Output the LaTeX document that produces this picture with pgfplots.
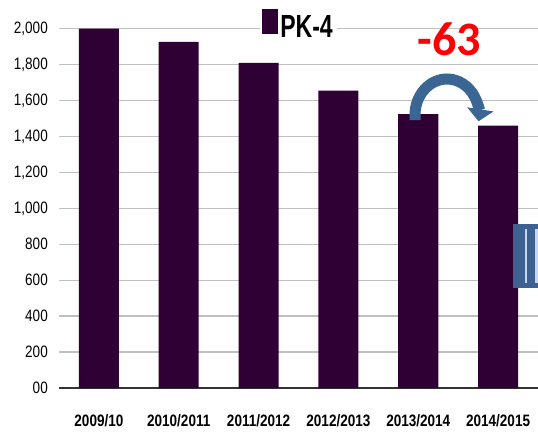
\documentclass[border=0pt]{standalone}
\usepackage{fontspec}
\setmainfont{Liberation Sans}[FakeStretch=0.82]
\newfontfamily\legfont{Liberation Sans}[FakeStretch=0.72]
\newfontfamily\numfont{Carlito}
\usepackage{pgfplots}
\pgfplotsset{compat=1.18}
\usetikzlibrary{arrows.meta}
\definecolor{barpurple}{HTML}{2F0033}
\definecolor{gridgray}{HTML}{BFBFBF}
\definecolor{arrowblue}{HTML}{3B6694}
\definecolor{boxblue}{HTML}{3D6190}
\definecolor{lightblue}{HTML}{C9D6E8}

\begin{document}
\begin{tikzpicture}[x=1pt,y=1pt]
\path[use as bounding box] (-59,-44) rectangle (479,388);
\begin{axis}[
    at={(0,0)}, anchor=south west,
    scale only axis,
    width=479pt, height=359.3pt,
    ybar, bar width=40pt,
    xmin=-0.5, xmax=5.5,
    ymin=0, ymax=2000,
    xtick={0,1,2,3,4,5},
    xticklabels={2009/10,2010/2011,2011/2012,2012/2013,2013/2014,2014/2015},
    ytick={0,200,400,600,800,1000,1200,1400,1600,1800,2000},
    yticklabels={00,200,400,600,800,{1,000},{1,200},{1,400},{1,600},{1,800},{2,000}},
    ymajorgrids=true,
    grid style={gridgray, line width=1.4pt},
    axis x line*=bottom, axis y line*=left,
    x axis line style={black!80, line width=1.5pt, -},
    y axis line style={draw=none},
    major tick length=0pt,
    tick style={draw=none},
    yticklabel style={font=\fontsize{16.5}{18}\selectfont, anchor=east, inner sep=0pt, xshift=-11pt},
    xticklabel style={font=\bfseries\fontsize{16.5}{18}\selectfont, anchor=north, inner sep=0pt, yshift=-26pt},
    legend style={at={(0.5,1.026)}, anchor=center, draw=none, fill=white,
        inner sep=2pt, font=\legfont\bfseries\fontsize{32}{34}\selectfont,
        /tikz/every even column/.append style={column sep=0pt}},
    legend image code/.code={
        \path (0pt,30pt) -- (16pt,30pt);
        \fill[barpurple] (0pt,-7pt) rectangle (16pt,18pt);},
]
\addplot[fill=barpurple, draw=none] coordinates {
  (0,2000)
  (1,1927)
  (2,1810)
  (3,1656)
  (4,1524)
  (5,1461)
};
\legend{PK-4}
\end{axis}

% annotation
\node[text=red, font=\numfont\bfseries\fontsize{48}{50}\selectfont] at (390,349) {-63};
\draw[arrowblue, line width=11pt, -{Triangle[width=26pt,length=12pt]}]
  (356,268) -- (356,273) arc[start angle=180, end angle=-10, x radius=32, y radius=36];

% clipped object at the right edge
\fill[boxblue] (454,100) rectangle (482,164);
\fill[lightblue] (466,105) rectangle (468,159);
\fill[lightblue] (476,105) rectangle (482,159);
\end{tikzpicture}
\end{document}
